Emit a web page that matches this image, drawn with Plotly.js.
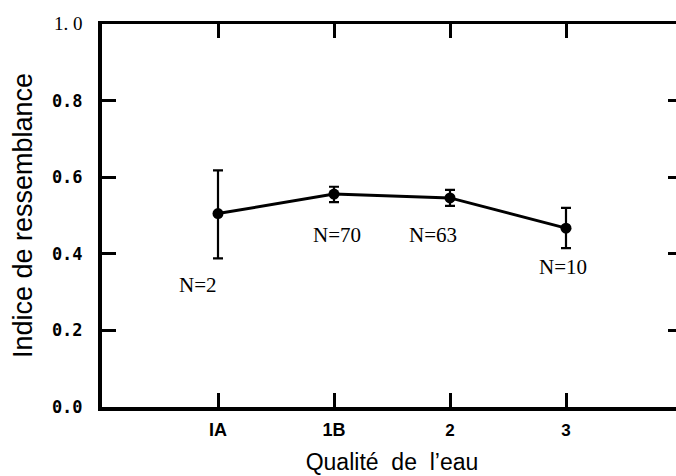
<!DOCTYPE html>
<html>
<head>
<meta charset="utf-8">
<script src="https://cdn.plot.ly/plotly-3.0.1.min.js"></script>
<style>html,body{margin:0;padding:0;overflow:hidden;background:#fff;} #chart{width:690px;height:476px;}</style>
</head>
<body>
<div id="chart"></div>
<script>
// Data
const categories = ["IA", "1B", "2", "3"];
const categoryPos = [1, 2, 3, 4];
const meanValues = [0.505, 0.556, 0.546, 0.467];
const errPlus = [0.113, 0.019, 0.021, 0.053];
const errMinus = [0.117, 0.021, 0.021, 0.052];
const nLabels = ["N=2", "N=70", "N=63", "N=10"];
const yTickVals = [0, 0.2, 0.4, 0.6, 0.8, 1.0];
const yTickLabels = ["0.0", "0.2", "0.4", "0.6", "0.8", "1. 0"];

// label placement (layout, not data)
const labelDx = [-0.17, 0.03, -0.15, -0.03];
const labelDy = [-0.187, -0.107, -0.097, -0.101];

const xTickText = categories.map((c, i) => i < 2 ? "<b>" + c + "</b>" :
  "<span style='font-size:17px'><b>" + c + "</b></span>");
const yTickText = yTickLabels.map((t, i) => i < 5 ? "<b>" + t + "</b>" :
  "<span style='font-family:Liberation Serif;font-size:19px'>" + t + "</span>");

const trace = {
  x: categoryPos,
  y: meanValues,
  type: "scatter",
  mode: "lines+markers",
  line: {color: "#000", width: 3},
  marker: {color: "#000", size: 11, symbol: "circle"},
  error_y: {type: "data", symmetric: false, array: errPlus, arrayminus: errMinus,
            color: "#000", thickness: 2.2, width: 5},
  cliponaxis: false,
  hoverinfo: "none"
};

const annotations = nLabels.map((t, i) => ({
  x: categoryPos[i] + labelDx[i],
  y: meanValues[i] + labelDy[i],
  xref: "x", yref: "y",
  text: t, showarrow: false,
  font: {family: "Liberation Serif, Times New Roman, serif", size: 21, color: "#000"}
}));

const layout = {
  width: 690, height: 476,
  margin: {l: 102, r: 8, t: 24, b: 69},
  paper_bgcolor: "#fff", plot_bgcolor: "#fff",
  showlegend: false,
  xaxis: {
    range: [0, 5],
    tickvals: categoryPos, ticktext: xTickText,
    ticks: "inside", ticklen: 14, tickwidth: 3, tickcolor: "#000",
    ticklabelstandoff: 4,
    showline: true, linewidth: 3.5, linecolor: "#000", mirror: "ticks",
    showgrid: false, zeroline: false,
    tickfont: {family: "Liberation Sans, Arial, sans-serif", size: 18, color: "#000"},
    title: {text: "Qualité\u00a0 de\u00a0 l’eau", standoff: 16,
            font: {family: "Liberation Sans, Arial, sans-serif", size: 23, color: "#000"}}
  },
  yaxis: {
    range: [0, 1.0],
    tickvals: yTickVals, ticktext: yTickText,
    ticks: "inside", ticklen: 14, tickwidth: 3, tickcolor: "#000",
    ticklabelstandoff: 12,
    showline: true, linewidth: 4, linecolor: "#000", mirror: "ticks",
    showgrid: false, zeroline: false,
    tickfont: {family: "DejaVu Sans Mono, monospace", size: 17, color: "#000"},
    title: {text: "Indice de ressemblance", standoff: 12,
            font: {family: "Liberation Sans, Arial, sans-serif", size: 27, color: "#000"}}
  },
  annotations: annotations
};

Plotly.newPlot("chart", [trace], layout, {displayModeBar: false, staticPlot: true});
</script>
</body>
</html>
